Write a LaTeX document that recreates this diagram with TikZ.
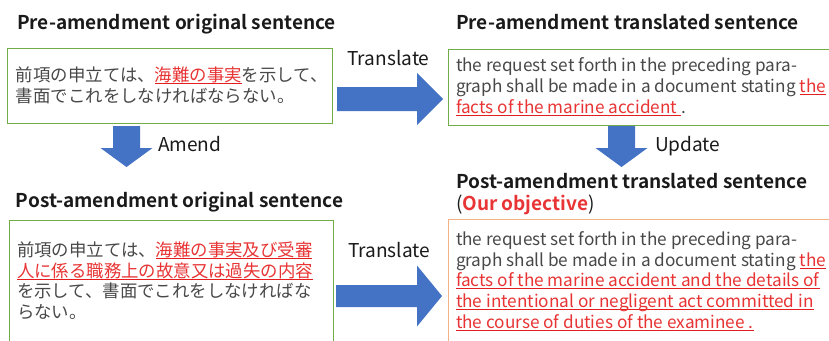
\documentclass[tikz,border=0pt]{standalone}
\usepackage{fontspec}
\setmainfont{Noto Sans CJK JP}[BoldFont={Noto Sans CJK JP Bold}]
\definecolor{boxgreen}{RGB}{112,173,71}
\definecolor{boxorange}{RGB}{244,177,131}
\definecolor{arrowblue}{RGB}{68,114,196}
\definecolor{txtgray}{RGB}{72,72,72}
\definecolor{txtred}{RGB}{232,52,52}
\definecolor{ulred}{RGB}{228,30,30}
\definecolor{ttlblack}{RGB}{26,26,26}
\newlength\calw
\newsavebox\ulbox
\newcommand\redul[1]{\sbox\ulbox{\textcolor{txtred}{#1}}\rlap{\textcolor{ulred}{\rule[-2.6pt]{\wd\ulbox}{1pt}}}\usebox\ulbox}
\newcommand\bodyfont{\fontsize{\bodysize pt}{\bodysize pt}\selectfont}
\newcommand\jpfont{\fontsize{17.4pt}{17.4pt}\selectfont}
\newcommand\titlefont{\fontsize{\titlesize pt}{\titlesize pt}\selectfont\bfseries}
\newcommand\lblfont{\fontsize{\lblsize pt}{\lblsize pt}\selectfont}
\AtBeginDocument{%
\settowidth\calw{\normalfont\fontsize{10pt}{10pt}\selectfont graph shall be made in a document stating the}%
\pgfmathsetmacro\tmpv{10*370/\calw}\xdef\bodysize{\tmpv}%
\settowidth\calw{\normalfont\fontsize{10pt}{10pt}\selectfont\bfseries Pre-amendment original sentence}%
\pgfmathsetmacro\tmpv{10*319/\calw}\xdef\titlesize{\tmpv}%
\settowidth\calw{\normalfont\fontsize{10pt}{10pt}\selectfont Translate}%
\pgfmathsetmacro\tmpv{10*82/\calw}\xdef\lblsize{\tmpv}%
}
\begin{document}
\begin{tikzpicture}[x=1pt,y=-1pt]
\tikzset{
  box/.style={draw=boxgreen, line width=1pt, fill=white, inner sep=0pt, anchor=north west},
  objbox/.style={box, draw=boxorange},
  body/.style={anchor=base west, inner sep=0pt, outer sep=0pt, text=txtgray, font=\bodyfont},
  jp/.style={anchor=base west, inner sep=0pt, outer sep=0pt, text=txtgray, font=\jpfont},
  title/.style={anchor=base west, inner sep=0pt, outer sep=0pt, text=ttlblack, font=\titlefont},
  lbl/.style={anchor=base west, inner sep=0pt, outer sep=0pt, text=ttlblack, font=\lblfont},
  blockarrow/.style={fill=arrowblue}
}
\useasboundingbox (0,0) rectangle (829,340);
% boxes
\node[box, minimum width=325pt, minimum height=75pt] (boxA) at (7.3,48.3) {};
\node[box, minimum width=390pt, minimum height=76pt] (boxB) at (447.5,48.5) {};
\node[box, minimum width=324pt, minimum height=130pt] (boxC) at (9,220) {};
\node[objbox, minimum width=390pt, minimum height=130pt] (boxD) at (447.5,218.5) {};
% titles
\node[title] (tA) at (17,29.3) {Pre-amendment original sentence};
\node[title] (tB) at (456,29.3) {Pre-amendment translated sentence};
\node[title] (tC) at (16,207) {Post-amendment original sentence};
\node[title] (tD) at (456,188) {Post-amendment translated sentence};
\node[title] (tD2) at (456,210) {\mdseries(\textcolor{txtred}{\bfseries Our objective})};
% box A text
\node[jp] (a1) at (16,81) {前項の申立ては、\redul{海難の事実}を示して、};
\node[jp] (a2) at (16,102) {書面でこれをしなければならない。};
% box B text
\node[body] (b1) at (456,71.7) {the request set forth in the preceding para-};
\node[body] (b2) at (456,92.7) {graph shall be made in a document stating \redul{the}};
\node[body] (b3) at (456,113.3) {\redul{facts of the marine accident }.};
% box C text
\node[jp] (c1) at (17,256.5) {前項の申立ては、\redul{海難の事実及び受審}};
\node[jp] (c2) at (17,277) {\redul{人に係る職務上の故意又は過失の内容}};
\node[jp] (c3) at (17,297.5) {を示して、書面でこれをしなければな};
\node[jp] (c4) at (17,318) {らない。};
% box D text
\node[body] (d1) at (456,245) {the request set forth in the preceding para-};
\node[body] (d2) at (456,266) {graph shall be made in a document stating \redul{the}};
\node[body] (d3) at (456,286.5) {\redul{facts of the marine accident and the details of}};
\node[body] (d4) at (456,307.3) {\redul{the intentional or negligent act committed in}};
\node[body] (d5) at (456,328.3) {\redul{the course of duties of the examinee .}};
% arrows
\coordinate (tr1) at (337,99);
\coordinate (tr2) at (336,296);
\coordinate (am) at (126.5,126);
\coordinate (up) at (621.5,126);
\fill[blockarrow] (tr1) ++(0,-12) -- ++(80,0) -- ++(0,-14) -- ++(26,26) -- ++(-26,26) -- ++(0,-14) -- ++(-80,0) -- cycle;
\fill[blockarrow] (tr2) ++(0,-11) -- ++(81,0) -- ++(0,-19.5) -- ++(25,30.5) -- ++(-25,30.5) -- ++(0,-19.5) -- ++(-81,0) -- cycle;
\fill[blockarrow] (am) ++(-13.5,0) -- ++(27,0) -- ++(0,22) -- ++(12.5,0) -- ++(-26,19) -- ++(-26,-19) -- ++(12.5,0) -- cycle;
\fill[blockarrow] (up) ++(-13.5,0) -- ++(27,0) -- ++(0,22) -- ++(12.5,0) -- ++(-26,19) -- ++(-26,-19) -- ++(12.5,0) -- cycle;
% labels
\node[lbl] (l1) at (347.5,65) {Translate};
\node[lbl] (l2) at (348,257) {Translate};
\node[lbl] (l3) at (158,151) {Amend};
\node[lbl] (l4) at (655,151) {Update};
\end{tikzpicture}
\end{document}
